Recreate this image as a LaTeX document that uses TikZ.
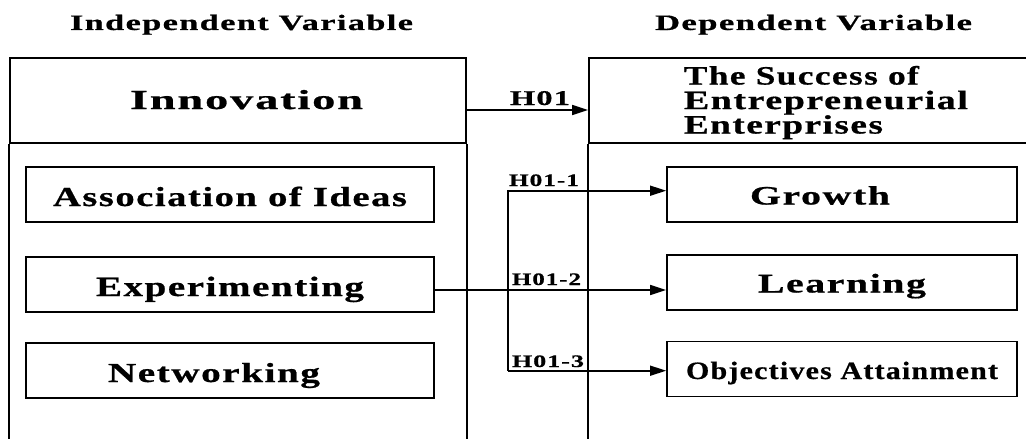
\documentclass[tikz,border=0pt]{standalone}
\usepackage{fontspec}
\setmainfont{Liberation Serif}
\newfontfamily\sbf{Liberation Serif}[LetterSpace=4,BoldFeatures={FakeBold=0.6}]
\usetikzlibrary{arrows.meta}
\newcommand{\wt}[3]{\resizebox{#1pt}{\height}{\sbf\bfseries\fontsize{#2pt}{#2pt}\selectfont #3}}
\begin{document}
\begin{tikzpicture}[x=1pt,y=-1pt,line width=1.8pt,
  head/.style={draw, inner sep=0pt, minimum width=456pt, minimum height=85pt, text height=17pt, text depth=0pt},
  lbox/.style={draw, inner sep=0pt, minimum width=408pt, minimum height=55pt, text height=23pt, text depth=0pt},
  rbox/.style={draw, inner sep=0pt, minimum width=350pt, minimum height=55pt, text height=20pt, text depth=0pt},
  plain/.style={inner sep=0pt},
  arr/.style={-{Triangle[length=16pt,width=10pt]}, line width=1.6pt}]
\useasboundingbox (0,0) rectangle (1026,439);
% titles
\node[plain, anchor=base] (tind) at (241.5,30) {\wt{343}{22}{Independent Variable}};
\node[plain, anchor=base] (tdep) at (813.5,30) {\wt{317}{22}{Dependent Variable}};
% header panels
\node[head] (lefthead) at (238,100.5) {\hspace*{17pt}\wt{233}{27.5}{Innovation}};
\node[head, minimum width=461pt] (righthead) at (819.5,100.5) {};
\draw (lefthead.south west) -- ([yshift=-310pt]lefthead.south west);
\draw (lefthead.south east) -- ([yshift=-310pt]lefthead.south east);
\draw (righthead.south west) -- ([yshift=-310pt]righthead.south west);
\node[plain, anchor=north west] (succ) at (683,65) {\vbox{\baselineskip=24.5pt
  \hbox{\wt{235}{26.5}{The Success of}}
  \hbox{\wt{284}{26.5}{Entrepreneurial}}
  \hbox{\wt{199}{26.5}{Enterprises}}}};
% left boxes
\node[lbox] (assoc) at (230,194.5) {\wt{354}{27.5}{Association of Ideas}};
\node[lbox] (exper) at (230,284.5) {\wt{268}{28}{Experimenting}};
\node[lbox] (netw) at (230,370.5) {\wt{212}{27.5}{Networking}\hspace*{32pt}};
% right boxes
\node[rbox] (growth) at (842,194.5) {\wt{140}{26.5}{Growth}\hspace*{44pt}};
\node[rbox] (learn) at (842,282.5) {\wt{168}{27}{Learning}};
\node[rbox] (obj) at (842,369) {\wt{312}{25}{Objectives Attainment}};
% connectors
\draw[arr] ([yshift=-9.5pt]lefthead.east) -- ([yshift=-9.5pt]righthead.west);
\node[plain, anchor=base] (l0) at (540,105) {\wt{60}{21}{H01}};
\coordinate (j1) at (508,190.7);
\coordinate (j3) at (508,370.7);
\coordinate (j2) at (508,290);
\draw[arr] (j3) -- (j1) -- (growth.west |- j1);
\draw[arr] (exper.east |- j2) -- (learn.west |- j2);
\draw[arr] (j3) -- (obj.west |- j3);
\node[plain, anchor=base] (l1) at (544,186) {\wt{70}{17.5}{H01-1}};
\node[plain, anchor=base] (l2) at (546.5,285) {\wt{69}{17.5}{H01-2}};
\node[plain, anchor=base] (l3) at (548,367) {\wt{72}{17.5}{H01-3}};
\end{tikzpicture}
\end{document}
